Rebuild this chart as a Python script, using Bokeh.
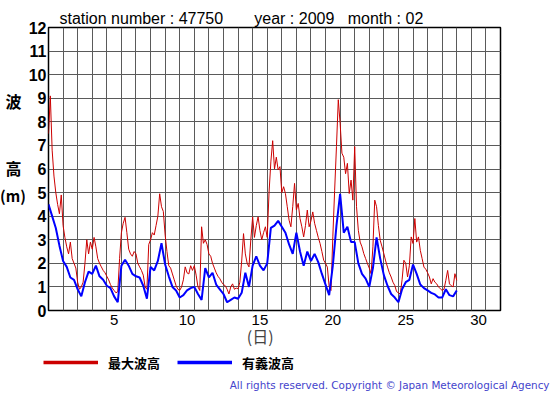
from bokeh.plotting import figure
from bokeh.models import Range1d, FixedTicker, Legend, LegendItem, Title, Label
from bokeh.layouts import row, column
from bokeh.embed import file_html
from bokeh.resources import INLINE

# ---- data ----
station = "47750"
year = "2009"
month = "02"
x_tick_pos = [4.5, 9.5, 14.5, 19.5, 24.5, 29.5]
x_tick_labels = ["5", "10", "15", "20", "25", "30"]
y_ticks = list(range(0, 13))
legend_labels = ["最大波高", "有義波高"]

max_step_days = 0.125   # sampling step of max wave height (days)
max_wave = [
    7.5, 9.1, 6.8, 5.7, 5.0, 4.5, 4.1, 4.9,
    3.6, 3.1, 2.7, 2.4, 2.9, 2.2, 2.0, 1.8,
    1.2, 0.9, 1.0, 1.2, 2.0, 3.0, 2.4, 2.9,
    2.6, 3.1, 2.7, 2.2, 2.0, 1.85, 1.7, 1.6,
    1.45, 1.3, 1.1, 0.95, 0.85, 0.75, 0.8, 2.2,
    3.3, 3.7, 3.95, 3.3, 2.6, 2.4, 2.3, 2.5,
    2.4, 2.0, 1.85, 1.7, 1.5, 1.0, 0.9, 2.8,
    3.0, 3.3, 3.2, 3.6, 4.0, 4.95, 4.4, 4.2,
    3.2, 2.5, 1.9, 1.8, 1.55, 1.3, 1.05, 0.9,
    0.85, 1.0, 1.3, 1.85, 1.6, 1.55, 1.9, 1.7,
    1.9, 1.5, 1.0, 0.85, 3.55, 2.85, 3.0, 2.8,
    2.4, 2.3, 2.0, 1.8, 1.6, 1.45, 1.35, 1.2,
    1.1, 1.05, 0.9, 0.7, 1.0, 1.13, 0.9, 0.95,
    0.92, 1.2, 2.1, 3.26, 2.4, 2.0, 1.85, 3.0,
    3.97, 3.1, 3.6, 3.97, 3.4, 3.0, 3.3, 3.55,
    3.1, 5.0, 6.3, 7.2, 6.0, 6.5, 5.96, 6.1,
    5.0, 5.25, 4.96, 4.4, 3.83, 3.55, 4.4, 5.39,
    4.26, 4.54, 3.9, 3.55, 3.12, 3.6, 4.26, 3.55,
    3.8, 4.18, 3.7, 3.4, 3.1, 2.84, 2.5, 2.13,
    2.0, 1.84, 1.0, 0.85, 3.12, 5.1, 6.95, 8.94,
    7.94, 6.67, 6.5, 5.8, 6.24, 4.96, 5.53, 4.68,
    6.95, 4.4, 3.4, 2.9, 2.7, 2.41, 2.2, 1.99,
    1.8, 1.56, 2.7, 4.68, 4.4, 3.6, 2.98, 2.7,
    2.41, 2.1, 1.84, 1.6, 1.42, 1.2, 1.06, 0.8,
    0.75, 0.7, 1.3, 2.13, 2.0, 1.42, 1.9, 3.12,
    2.84, 3.9, 2.9, 3.12, 2.55, 2.2, 1.84, 1.75,
    1.6, 1.42, 1.13, 1.35, 1.2, 1.13, 1.0, 0.92,
    0.85, 0.9, 1.28, 1.7, 1.13, 1.05, 1.0, 1.56,
    1.28,
]

sig_step_days = 0.25    # sampling step of significant wave height (days)
sig_wave = [
    4.5, 4.0, 3.5, 2.75, 2.1, 1.85, 1.4, 1.3,
    0.9, 0.6, 1.2, 1.65, 1.55, 1.9, 1.45, 1.3,
    1.05, 0.95, 0.6, 0.35, 1.9, 2.15, 1.9, 1.55,
    1.45, 1.4, 1.05, 0.5, 1.85, 1.7, 2.1, 2.85,
    1.95, 1.45, 1.0, 0.85, 0.55, 0.65, 0.85, 0.95,
    1.0, 0.7, 0.45, 1.8, 1.4, 1.6, 1.1, 0.9,
    0.7, 0.35, 0.45, 0.55, 0.5, 0.75, 1.6, 1.0,
    1.9, 2.3, 1.9, 1.7, 2.0, 3.5, 3.6, 3.8,
    3.55, 3.3, 2.8, 2.4, 3.3, 2.5, 1.9, 2.5,
    2.1, 2.4, 2.05, 1.55, 1.1, 0.65, 1.9, 3.6,
    4.95, 3.3, 3.55, 2.9, 2.9, 2.0, 1.55, 1.35,
    1.0, 1.8, 3.1, 2.2, 1.5, 1.05, 0.7, 0.55,
    0.35, 0.9, 1.2, 1.3, 1.95, 1.55, 1.1, 0.95,
    0.85, 0.75, 0.68, 0.55, 0.55, 0.9, 0.65, 0.6,
    0.85,
]

t_max = [i * max_step_days for i in range(len(max_wave))]
t_sig = [i * sig_step_days for i in range(len(sig_wave))]

RED = "#cc0000"
BLUE = "#0000ff"
NB = "\u00a0"
CJK = "Noto Sans CJK JP"

L_W, M_W, M_H, B_H = 25, 528, 352, 41


def canvas(w, h):
    """A plain drawing strip whose frame fills the whole figure."""
    f = figure(width=w, height=h, x_range=Range1d(0, 1), y_range=Range1d(0, 1),
               output_backend="svg", toolbar_location=None, tools="",
               x_axis_location=None, y_axis_location=None, min_border=0)
    f.outline_line_color = None
    f.background_fill_color = "white"
    f.border_fill_color = "white"
    f.grid.grid_line_color = None
    return f


def lab(f, x, y, text, size="16px", font=CJK, style="bold", align="center",
        color="black"):
    f.add_layout(Label(x=x, y=y, x_units="screen", y_units="screen", text=text,
                       text_font=font, text_font_size=size, text_font_style=style,
                       text_align=align, text_baseline="middle", text_color=color))


# ---------------- main chart ----------------
M = figure(width=M_W, height=M_H,
           x_range=Range1d(0, 31), y_range=Range1d(0, 12),
           output_backend="svg", toolbar_location=None,
           min_border_left=20, min_border_right=M_W - 20 - 455,
           min_border_top=27, min_border_bottom=M_H - 310)
M.background_fill_color = "white"
M.border_fill_color = "white"
M.outline_line_color = "black"
M.outline_line_width = 1.5

M.xaxis.ticker = FixedTicker(ticks=x_tick_pos)
M.xaxis.major_label_overrides = {pos: t for pos, t in zip(x_tick_pos, x_tick_labels)}
M.yaxis.ticker = FixedTicker(ticks=y_ticks)
for ax in (M.xaxis, M.yaxis):
    ax.axis_line_color = None
    ax.major_tick_line_color = None
    ax.minor_tick_line_color = None
    ax.major_tick_out = 0
    ax.major_tick_in = 0
    ax.minor_tick_out = 0
    ax.minor_tick_in = 0
    ax.major_label_text_font = "Liberation Sans"
    ax.major_label_text_color = "black"
M.xaxis.major_label_text_font_size = "15px"
M.xaxis.major_label_standoff = 4
M.yaxis.major_label_text_font_size = "16px"
M.yaxis.major_label_text_font_style = "bold"
M.yaxis.major_label_standoff = 2
# x-axis title; trailing no-break spaces move the centred text a little left
M.xaxis.axis_label = "(日)" + NB * 8
M.xaxis.axis_label_text_font = CJK
M.xaxis.axis_label_text_font_size = "16px"
M.xaxis.axis_label_text_font_style = "normal"
M.xaxis.axis_label_standoff = -4

M.xgrid.ticker = FixedTicker(ticks=list(range(1, 31)))
M.ygrid.ticker = FixedTicker(ticks=list(range(1, 12)))
for g in (M.xgrid, M.ygrid):
    g.grid_line_color = "#5a5a5a"
    g.grid_line_width = 1
    g.grid_line_alpha = 1.0

M.line(t_max, max_wave, line_color=RED, line_width=1)
M.line(t_sig, sig_wave, line_color=BLUE, line_width=2)

header = ("station number : " + station + NB * 7 + "year : " + year
          + NB * 3 + "month : " + month)
M.add_layout(Title(text=header, align="left", offset=11, standoff=2,
                   text_font="Liberation Sans", text_font_size="16px",
                   text_font_style="normal", text_color="black"), "above")

# ---------------- left strip: y-axis title ----------------
Lf = canvas(L_W, M_H)
lab(Lf, 13, M_H - 142.5, "波")
lab(Lf, 13, M_H - 209, "高")
lab(Lf, 12.5, M_H - 236.5, "(m)", size="15px")

# ---------------- bottom strip: legend and copyright ----------------
B = canvas(L_W + M_W, B_H)
# one-point renderers: they draw nothing but give the legend its line styles
r1 = B.line(x=[0], y=[0], line_color=RED, line_width=3.5)
r2 = B.line(x=[0], y=[0], line_color=BLUE, line_width=3.5)
legend = Legend(items=[LegendItem(label=legend_labels[0], renderers=[r1]),
                       LegendItem(label=legend_labels[1], renderers=[r2])],
                location=(43, B_H - 20), orientation="horizontal",
                glyph_width=55, glyph_height=20, label_height=20,
                label_standoff=10, spacing=17, padding=0, margin=0,
                border_line_color=None, background_fill_alpha=0,
                label_text_font=CJK, label_text_font_style="bold",
                label_text_font_size="13px", label_text_color="black")
B.add_layout(legend)
lab(B, 549, B_H - 32, "All rights reserved. Copyright © Japan Meteorological Agency",
    size="10.4px", font="DejaVu Sans", style="normal", align="right", color="#4444cc")

layout = column(row(Lf, M), B)
open("out.html", "w").write(file_html(layout, INLINE))
